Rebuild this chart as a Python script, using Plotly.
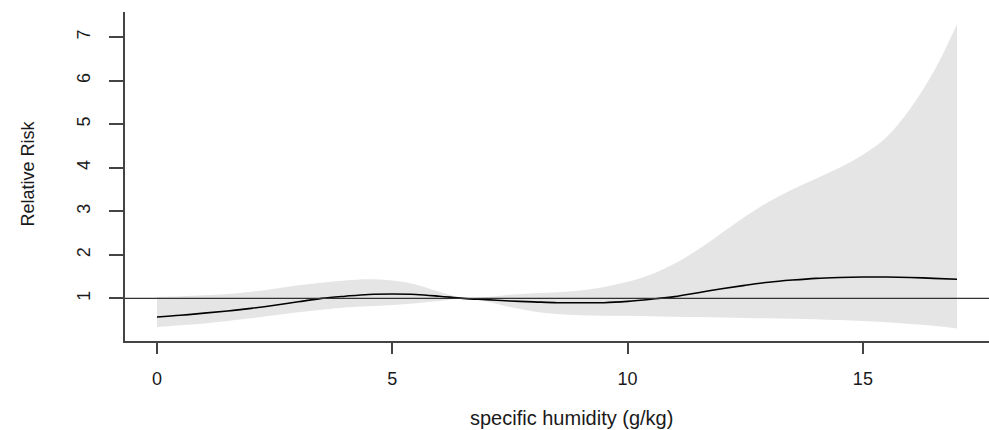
import plotly.graph_objects as go

humidity = [0, 0.5, 1, 1.5, 2, 2.5, 3, 3.5, 4, 4.5, 5, 5.5, 6, 6.5, 7, 7.5, 8, 8.5,
            9, 9.5, 10, 10.5, 11, 11.5, 12, 12.5, 13, 13.5, 14, 14.5, 15, 15.5, 16, 16.5, 17]
rr = [0.57, 0.61, 0.66, 0.71, 0.77, 0.84, 0.92, 1.00, 1.05, 1.09, 1.10, 1.09, 1.05, 1.00,
      0.97, 0.94, 0.92, 0.90, 0.90, 0.90, 0.93, 0.98, 1.04, 1.13, 1.22, 1.30, 1.37, 1.42,
      1.46, 1.48, 1.49, 1.49, 1.48, 1.46, 1.44]
rr_upper = [1.03, 1.05, 1.07, 1.10, 1.15, 1.22, 1.30, 1.36, 1.41, 1.44, 1.41, 1.32, 1.15, 1.01,
            1.03, 1.08, 1.12, 1.14, 1.18, 1.26, 1.38, 1.55, 1.80, 2.12, 2.50, 2.88, 3.22, 3.50,
            3.75, 4.00, 4.30, 4.70, 5.35, 6.20, 7.30]
rr_lower = [0.34, 0.38, 0.42, 0.48, 0.54, 0.61, 0.68, 0.74, 0.79, 0.82, 0.85, 0.89, 0.94, 0.99,
            0.93, 0.80, 0.70, 0.64, 0.61, 0.60, 0.60, 0.59, 0.58, 0.57, 0.56, 0.55, 0.54, 0.53,
            0.52, 0.50, 0.48, 0.45, 0.41, 0.37, 0.31]
x_ticks = [0, 5, 10, 15]
y_ticks = [1, 2, 3, 4, 5, 6, 7]

FONT = "Liberation Sans, Arial, sans-serif"
AXC = "#444444"
TXT = "#1a1a1a"

fig = go.Figure()
fig.add_trace(go.Scatter(x=humidity, y=rr_lower, mode="lines", line=dict(width=0, shape="spline"),
                         hoverinfo="skip", showlegend=False))
fig.add_trace(go.Scatter(x=humidity, y=rr_upper, mode="lines", line=dict(width=0, shape="spline"),
                         fill="tonexty", fillcolor="#e5e5e5", hoverinfo="skip", showlegend=False))
fig.add_shape(type="line", xref="paper", x0=0, x1=1, yref="y", y0=1, y1=1,
              line=dict(color="#333333", width=1.2))
fig.add_trace(go.Scatter(x=humidity, y=rr, mode="lines", line=dict(color="black", width=1.6, shape="spline"),
                         showlegend=False))

fig.update_layout(
    width=989, height=430,
    margin=dict(l=125, r=0, t=12, b=89),
    plot_bgcolor="white", paper_bgcolor="white",
    font=dict(family=FONT, size=18, color=TXT),
    xaxis=dict(range=[-0.68, 17.68], tickvals=x_ticks, ticktext=[str(v) for v in x_ticks],
               showgrid=False, zeroline=False, showline=True, linecolor=AXC, linewidth=1.5,
               ticks="outside", ticklen=11, tickwidth=1.5, tickcolor=AXC, ticklabelstandoff=10,
               tickfont=dict(size=18, color=TXT)),
    yaxis=dict(range=[0.02, 7.58], tickvals=y_ticks, ticktext=[str(v) for v in y_ticks],
               showgrid=False, zeroline=False, showline=True, linecolor=AXC, linewidth=1.5,
               ticks="outside", ticklen=14, tickwidth=1.5, tickcolor=AXC, tickangle=-90,
               ticklabelstandoff=12, tickfont=dict(size=18, color=TXT)),
    annotations=[
        dict(text="specific humidity (g/kg)", xref="paper", yref="paper", x=0.517, y=-0.234,
             xanchor="center", yanchor="middle", showarrow=False, font=dict(size=20, color=TXT)),
        dict(text="Relative Risk", xref="paper", yref="paper", x=-0.112, y=0.51,
             xanchor="center", yanchor="middle", textangle=-90, showarrow=False,
             font=dict(size=18, color=TXT)),
    ],
)

fig.write_html("out.html")
